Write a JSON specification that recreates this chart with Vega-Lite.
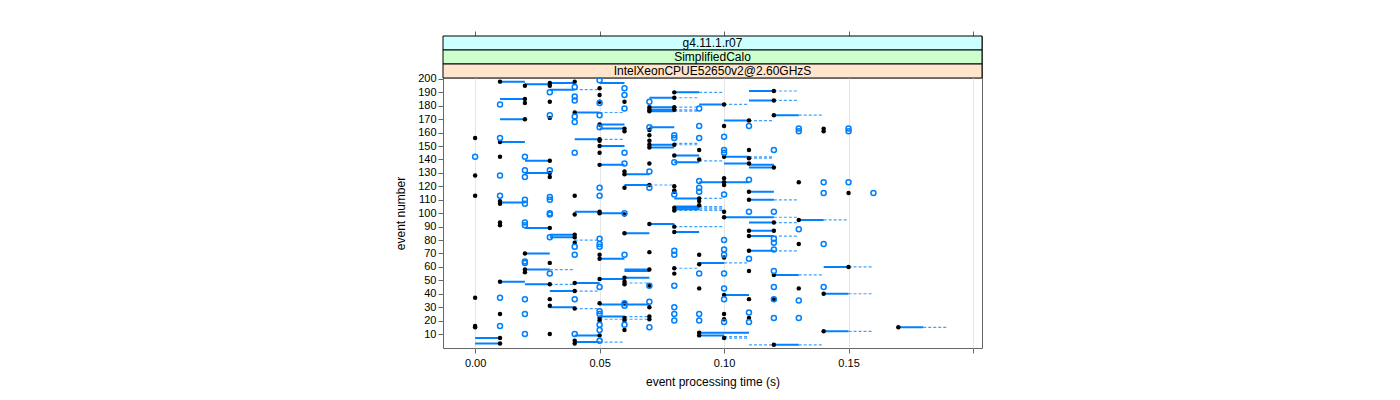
{
"$schema": "https://vega.github.io/schema/vega-lite/v6.json",
"padding": {"left": 394, "top": 30, "right": 10, "bottom": 5},
"background": "white",
"bounds": "flush",
"config": {"font": "Liberation Sans", "view": {"stroke": "#666666", "strokeWidth": 1},
  "axis": {"labelFont": "Liberation Sans", "titleFont": "Liberation Sans", "labelFontSize": 11, "titleFontSize": 12, "titleFontWeight": "normal", "labelColor": "black", "titleColor": "black", "tickColor": "#666666", "domain": false},
  "axisY": {"labelOverlap": false}},
"spacing": 0,
"datasets": {
"pts": [
{"e":198,"t":0.01,"k":"b"},{"e":197,"t":0.03,"k":"b"},{"e":195,"t":0.03,"k":"b"},{"e":198,"t":0.04,"k":"b"},{"e":195,"t":0.02,"k":"b"},{"e":193,"t":0.05,"k":"b"},{"e":188,"t":0.05,"k":"b"},{"e":183,"t":0.05,"k":"b"},{"e":185,"t":0.02,"k":"b"},{"e":182,"t":0.02,"k":"b"},{"e":183,"t":0.03,"k":"b"},{"e":183,"t":0.06,"k":"b"},{"e":175,"t":0.04,"k":"b"},{"e":171,"t":0.03,"k":"b"},{"e":170,"t":0.02,"k":"b"},{"e":166,"t":0.05,"k":"b"},{"e":163,"t":0.06,"k":"b"},{"e":161,"t":0.06,"k":"b"},{"e":156,"t":0.00,"k":"b"},{"e":153,"t":0.01,"k":"b"},{"e":155,"t":0.05,"k":"b"},{"e":154,"t":0.05,"k":"b"},{"e":150,"t":0.05,"k":"b"},{"e":145,"t":0.05,"k":"b"},{"e":142,"t":0.01,"k":"b"},{"e":139,"t":0.03,"k":"b"},{"e":136,"t":0.05,"k":"b"},{"e":130,"t":0.03,"k":"b"},{"e":127,"t":0.03,"k":"b"},{"e":131,"t":0.06,"k":"b"},{"e":129,"t":0.06,"k":"b"},{"e":128,"t":0.00,"k":"b"},{"e":119,"t":0.06,"k":"b"},{"e":113,"t":0.00,"k":"b"},{"e":109,"t":0.01,"k":"b"},{"e":107,"t":0.01,"k":"b"},{"e":113,"t":0.04,"k":"b"},{"e":101,"t":0.05,"k":"b"},
{"e":190,"t":0.08,"k":"b"},{"e":186,"t":0.08,"k":"b"},{"e":179,"t":0.07,"k":"b"},{"e":177,"t":0.07,"k":"b"},{"e":176,"t":0.07,"k":"b"},{"e":179,"t":0.08,"k":"b"},{"e":177,"t":0.08,"k":"b"},{"e":181,"t":0.10,"k":"b"},{"e":191,"t":0.12,"k":"b"},{"e":184,"t":0.12,"k":"b"},{"e":173,"t":0.12,"k":"b"},{"e":169,"t":0.11,"k":"b"},{"e":165,"t":0.10,"k":"b"},{"e":162,"t":0.07,"k":"b"},{"e":158,"t":0.07,"k":"b"},{"e":154,"t":0.07,"k":"b"},{"e":151,"t":0.07,"k":"b"},{"e":149,"t":0.07,"k":"b"},{"e":151,"t":0.08,"k":"b"},{"e":147,"t":0.09,"k":"b"},{"e":147,"t":0.11,"k":"b"},{"e":143,"t":0.08,"k":"b"},{"e":140,"t":0.09,"k":"b"},{"e":142,"t":0.10,"k":"b"},{"e":141,"t":0.11,"k":"b"},{"e":137,"t":0.11,"k":"b"},{"e":134,"t":0.12,"k":"b"},{"e":137,"t":0.07,"k":"b"},{"e":121,"t":0.07,"k":"b"},{"e":126,"t":0.10,"k":"b"},{"e":123,"t":0.10,"k":"b"},{"e":121,"t":0.10,"k":"b"},{"e":123,"t":0.13,"k":"b"},{"e":120,"t":0.08,"k":"b"},{"e":117,"t":0.08,"k":"b"},{"e":116,"t":0.08,"k":"b"},{"e":111,"t":0.09,"k":"b"},{"e":109,"t":0.09,"k":"b"},{"e":106,"t":0.09,"k":"b"},{"e":104,"t":0.08,"k":"b"},{"e":116,"t":0.11,"k":"b"},{"e":110,"t":0.11,"k":"b"},
{"e":163,"t":0.14,"k":"b"},{"e":161,"t":0.14,"k":"b"},{"e":115,"t":0.15,"k":"b"},
{"e":99,"t":0.04,"k":"b"},{"e":100,"t":0.05,"k":"b"},{"e":99,"t":0.06,"k":"b"},{"e":93,"t":0.01,"k":"b"},{"e":91,"t":0.01,"k":"b"},{"e":89,"t":0.03,"k":"b"},{"e":85,"t":0.06,"k":"b"},{"e":84,"t":0.04,"k":"b"},{"e":82,"t":0.04,"k":"b"},{"e":78,"t":0.04,"k":"b"},{"e":69,"t":0.05,"k":"b"},{"e":66,"t":0.05,"k":"b"},{"e":70,"t":0.02,"k":"b"},{"e":63,"t":0.03,"k":"b"},{"e":58,"t":0.02,"k":"b"},{"e":56,"t":0.02,"k":"b"},{"e":49,"t":0.01,"k":"b"},{"e":47,"t":0.03,"k":"b"},{"e":48,"t":0.04,"k":"b"},{"e":51,"t":0.05,"k":"b"},{"e":52,"t":0.06,"k":"b"},{"e":49,"t":0.06,"k":"b"},{"e":47,"t":0.06,"k":"b"},{"e":42,"t":0.04,"k":"b"},{"e":37,"t":0.00,"k":"b"},{"e":36,"t":0.03,"k":"b"},{"e":31,"t":0.03,"k":"b"},{"e":29,"t":0.04,"k":"b"},{"e":33,"t":0.05,"k":"b"},{"e":33,"t":0.06,"k":"b"},{"e":25,"t":0.01,"k":"b"},{"e":22,"t":0.05,"k":"b"},{"e":20,"t":0.05,"k":"b"},{"e":22,"t":0.06,"k":"b"},{"e":20,"t":0.06,"k":"b"},{"e":13,"t":0.06,"k":"b"},{"e":16,"t":0.00,"k":"b"},{"e":15,"t":0.00,"k":"b"},{"e":10,"t":0.03,"k":"b"},{"e":7,"t":0.01,"k":"b"},{"e":3,"t":0.01,"k":"b"},{"e":9,"t":0.05,"k":"b"},{"e":5,"t":0.04,"k":"b"},{"e":3,"t":0.04,"k":"b"},
{"e":102,"t":0.08,"k":"b"},{"e":101,"t":0.10,"k":"b"},{"e":97,"t":0.10,"k":"b"},{"e":95,"t":0.13,"k":"b"},{"e":92,"t":0.07,"k":"b"},{"e":90,"t":0.08,"k":"b"},{"e":86,"t":0.08,"k":"b"},{"e":93,"t":0.12,"k":"b"},{"e":87,"t":0.11,"k":"b"},{"e":87,"t":0.12,"k":"b"},{"e":83,"t":0.11,"k":"b"},{"e":77,"t":0.13,"k":"b"},{"e":72,"t":0.11,"k":"b"},{"e":67,"t":0.10,"k":"b"},{"e":71,"t":0.07,"k":"b"},{"e":69,"t":0.09,"k":"b"},{"e":62,"t":0.09,"k":"b"},{"e":58,"t":0.07,"k":"b"},{"e":59,"t":0.08,"k":"b"},{"e":55,"t":0.08,"k":"b"},{"e":57,"t":0.11,"k":"b"},{"e":54,"t":0.12,"k":"b"},{"e":46,"t":0.07,"k":"b"},{"e":44,"t":0.09,"k":"b"},{"e":39,"t":0.10,"k":"b"},{"e":36,"t":0.11,"k":"b"},{"e":36,"t":0.12,"k":"b"},{"e":44,"t":0.13,"k":"b"},{"e":30,"t":0.07,"k":"b"},{"e":23,"t":0.07,"k":"b"},{"e":21,"t":0.07,"k":"b"},{"e":25,"t":0.10,"k":"b"},{"e":21,"t":0.10,"k":"b"},{"e":22,"t":0.11,"k":"b"},{"e":11,"t":0.09,"k":"b"},{"e":9,"t":0.09,"k":"b"},{"e":7,"t":0.10,"k":"b"},{"e":2,"t":0.12,"k":"b"},
{"e":60,"t":0.15,"k":"b"},{"e":40,"t":0.14,"k":"b"},{"e":12,"t":0.14,"k":"b"},{"e":15,"t":0.17,"k":"b"},
{"e":199,"t":0.05,"k":"o"},{"e":194,"t":0.04,"k":"o"},{"e":193,"t":0.06,"k":"o"},{"e":190,"t":0.03,"k":"o"},{"e":187,"t":0.04,"k":"o"},{"e":184,"t":0.04,"k":"o"},{"e":182,"t":0.05,"k":"o"},{"e":188,"t":0.06,"k":"o"},{"e":178,"t":0.06,"k":"o"},{"e":181,"t":0.01,"k":"o"},{"e":173,"t":0.05,"k":"o"},{"e":173,"t":0.03,"k":"o"},{"e":172,"t":0.04,"k":"o"},{"e":168,"t":0.04,"k":"o"},{"e":164,"t":0.05,"k":"o"},{"e":156,"t":0.01,"k":"o"},{"e":145,"t":0.04,"k":"o"},{"e":145,"t":0.06,"k":"o"},{"e":142,"t":0.00,"k":"o"},{"e":142,"t":0.02,"k":"o"},{"e":137,"t":0.06,"k":"o"},{"e":132,"t":0.02,"k":"o"},{"e":132,"t":0.03,"k":"o"},{"e":127,"t":0.02,"k":"o"},{"e":128,"t":0.01,"k":"o"},{"e":119,"t":0.05,"k":"o"},{"e":113,"t":0.01,"k":"o"},{"e":110,"t":0.02,"k":"o"},{"e":107,"t":0.02,"k":"o"},{"e":112,"t":0.03,"k":"o"},{"e":110,"t":0.03,"k":"o"},{"e":113,"t":0.05,"k":"o"},{"e":100,"t":0.03,"k":"o"},{"e":100,"t":0.06,"k":"o"},{"e":183,"t":0.07,"k":"o"},
{"e":178,"t":0.09,"k":"o"},{"e":165,"t":0.11,"k":"o"},{"e":165,"t":0.09,"k":"o"},{"e":164,"t":0.07,"k":"o"},{"e":158,"t":0.08,"k":"o"},{"e":156,"t":0.08,"k":"o"},{"e":156,"t":0.09,"k":"o"},{"e":157,"t":0.10,"k":"o"},{"e":163,"t":0.13,"k":"o"},{"e":161,"t":0.13,"k":"o"},{"e":147,"t":0.12,"k":"o"},{"e":147,"t":0.10,"k":"o"},{"e":145,"t":0.10,"k":"o"},{"e":138,"t":0.08,"k":"o"},{"e":131,"t":0.07,"k":"o"},{"e":119,"t":0.07,"k":"o"},{"e":124,"t":0.09,"k":"o"},{"e":125,"t":0.11,"k":"o"},{"e":114,"t":0.08,"k":"o"},{"e":119,"t":0.09,"k":"o"},{"e":116,"t":0.09,"k":"o"},{"e":114,"t":0.10,"k":"o"},{"e":101,"t":0.11,"k":"o"},{"e":101,"t":0.12,"k":"o"},
{"e":163,"t":0.15,"k":"o"},{"e":161,"t":0.15,"k":"o"},{"e":123,"t":0.14,"k":"o"},{"e":123,"t":0.15,"k":"o"},{"e":115,"t":0.14,"k":"o"},{"e":115,"t":0.16,"k":"o"},
{"e":99,"t":0.03,"k":"o"},{"e":93,"t":0.02,"k":"o"},{"e":91,"t":0.02,"k":"o"},{"e":82,"t":0.03,"k":"o"},{"e":75,"t":0.04,"k":"o"},{"e":81,"t":0.05,"k":"o"},{"e":77,"t":0.05,"k":"o"},{"e":75,"t":0.05,"k":"o"},{"e":69,"t":0.04,"k":"o"},{"e":69,"t":0.06,"k":"o"},{"e":64,"t":0.02,"k":"o"},{"e":63,"t":0.02,"k":"o"},{"e":55,"t":0.03,"k":"o"},{"e":45,"t":0.05,"k":"o"},{"e":37,"t":0.01,"k":"o"},{"e":36,"t":0.02,"k":"o"},{"e":36,"t":0.04,"k":"o"},{"e":27,"t":0.05,"k":"o"},{"e":25,"t":0.05,"k":"o"},{"e":33,"t":0.06,"k":"o"},{"e":31,"t":0.06,"k":"o"},{"e":25,"t":0.02,"k":"o"},{"e":17,"t":0.06,"k":"o"},{"e":17,"t":0.05,"k":"o"},{"e":13,"t":0.05,"k":"o"},{"e":16,"t":0.01,"k":"o"},{"e":10,"t":0.02,"k":"o"},{"e":10,"t":0.04,"k":"o"},{"e":5,"t":0.05,"k":"o"},
{"e":88,"t":0.13,"k":"o"},{"e":81,"t":0.12,"k":"o"},{"e":78,"t":0.12,"k":"o"},{"e":73,"t":0.12,"k":"o"},{"e":80,"t":0.10,"k":"o"},{"e":73,"t":0.10,"k":"o"},{"e":69,"t":0.10,"k":"o"},{"e":72,"t":0.08,"k":"o"},{"e":69,"t":0.08,"k":"o"},{"e":66,"t":0.11,"k":"o"},{"e":55,"t":0.09,"k":"o"},{"e":55,"t":0.10,"k":"o"},{"e":57,"t":0.12,"k":"o"},{"e":46,"t":0.07,"k":"o"},{"e":46,"t":0.08,"k":"o"},{"e":44,"t":0.10,"k":"o"},{"e":36,"t":0.10,"k":"o"},{"e":45,"t":0.12,"k":"o"},{"e":36,"t":0.12,"k":"o"},{"e":35,"t":0.13,"k":"o"},{"e":34,"t":0.07,"k":"o"},{"e":15,"t":0.07,"k":"o"},{"e":30,"t":0.08,"k":"o"},{"e":25,"t":0.08,"k":"o"},{"e":20,"t":0.08,"k":"o"},{"e":25,"t":0.09,"k":"o"},{"e":20,"t":0.09,"k":"o"},{"e":19,"t":0.10,"k":"o"},{"e":26,"t":0.11,"k":"o"},{"e":19,"t":0.11,"k":"o"},{"e":22,"t":0.12,"k":"o"},{"e":22,"t":0.13,"k":"o"},
{"e":77,"t":0.14,"k":"o"},{"e":45,"t":0.14,"k":"o"}
],
"segs": [
{"e":198,"t":0.01,"t2":0.02,"s":"solid"},{"e":196,"t":0.02,"t2":0.03,"s":"solid"},{"e":197,"t":0.03,"t2":0.04,"s":"solid"},{"e":192,"t":0.03,"t2":0.04,"s":"solid"},{"e":197,"t":0.05,"t2":0.06,"s":"solid"},{"e":185,"t":0.01,"t2":0.02,"s":"solid"},{"e":175,"t":0.04,"t2":0.05,"s":"solid"},{"e":170,"t":0.01,"t2":0.02,"s":"solid"},{"e":166,"t":0.05,"t2":0.06,"s":"solid"},{"e":163,"t":0.05,"t2":0.06,"s":"solid"},{"e":153,"t":0.01,"t2":0.02,"s":"solid"},{"e":155,"t":0.04,"t2":0.05,"s":"solid"},{"e":150,"t":0.05,"t2":0.06,"s":"solid"},{"e":139,"t":0.02,"t2":0.03,"s":"solid"},{"e":136,"t":0.05,"t2":0.06,"s":"solid"},{"e":130,"t":0.02,"t2":0.03,"s":"solid"},{"e":129,"t":0.06,"t2":0.07,"s":"solid"},{"e":121,"t":0.06,"t2":0.07,"s":"solid"},{"e":108,"t":0.01,"t2":0.02,"s":"solid"},{"e":101,"t":0.04,"t2":0.05,"s":"solid"},{"e":100,"t":0.05,"t2":0.06,"s":"solid"},
{"e":190,"t":0.08,"t2":0.09,"s":"solid"},{"e":186,"t":0.07,"t2":0.08,"s":"solid"},{"e":179,"t":0.07,"t2":0.08,"s":"solid"},{"e":177,"t":0.07,"t2":0.08,"s":"solid"},{"e":176,"t":0.07,"t2":0.08,"s":"solid"},{"e":181,"t":0.09,"t2":0.10,"s":"solid"},{"e":191,"t":0.11,"t2":0.12,"s":"solid"},{"e":184,"t":0.11,"t2":0.12,"s":"solid"},{"e":173,"t":0.12,"t2":0.13,"s":"solid"},{"e":169,"t":0.10,"t2":0.11,"s":"solid"},{"e":164,"t":0.07,"t2":0.08,"s":"solid"},{"e":151,"t":0.07,"t2":0.08,"s":"solid"},{"e":149,"t":0.07,"t2":0.08,"s":"solid"},{"e":143,"t":0.08,"t2":0.09,"s":"solid"},{"e":138,"t":0.08,"t2":0.09,"s":"solid"},{"e":142,"t":0.10,"t2":0.11,"s":"solid"},{"e":136,"t":0.11,"t2":0.12,"s":"solid"},{"e":134,"t":0.11,"t2":0.12,"s":"solid"},{"e":137,"t":0.10,"t2":0.11,"s":"solid"},{"e":123,"t":0.09,"t2":0.10,"s":"solid"},{"e":123,"t":0.10,"t2":0.11,"s":"solid"},{"e":111,"t":0.08,"t2":0.09,"s":"solid"},{"e":105,"t":0.08,"t2":0.09,"s":"solid"},{"e":104,"t":0.08,"t2":0.09,"s":"solid"},{"e":103,"t":0.08,"t2":0.09,"s":"solid"},{"e":116,"t":0.11,"t2":0.12,"s":"solid"},{"e":110,"t":0.11,"t2":0.12,"s":"solid"},
{"e":89,"t":0.02,"t2":0.03,"s":"solid"},{"e":85,"t":0.06,"t2":0.07,"s":"solid"},{"e":84,"t":0.03,"t2":0.04,"s":"solid"},{"e":82,"t":0.03,"t2":0.04,"s":"solid"},{"e":66,"t":0.05,"t2":0.06,"s":"solid"},{"e":70,"t":0.02,"t2":0.03,"s":"solid"},{"e":58,"t":0.02,"t2":0.03,"s":"solid"},{"e":57,"t":0.06,"t2":0.07,"s":"solid"},{"e":49,"t":0.01,"t2":0.02,"s":"solid"},{"e":47,"t":0.02,"t2":0.03,"s":"solid"},{"e":48,"t":0.04,"t2":0.05,"s":"solid"},{"e":51,"t":0.05,"t2":0.06,"s":"solid"},{"e":52,"t":0.06,"t2":0.07,"s":"solid"},{"e":42,"t":0.03,"t2":0.04,"s":"solid"},{"e":30,"t":0.03,"t2":0.04,"s":"solid"},{"e":32,"t":0.05,"t2":0.06,"s":"solid"},{"e":32,"t":0.06,"t2":0.07,"s":"solid"},{"e":23,"t":0.05,"t2":0.06,"s":"solid"},{"e":7,"t":0.00,"t2":0.01,"s":"solid"},{"e":3,"t":0.00,"t2":0.01,"s":"solid"},{"e":9,"t":0.04,"t2":0.05,"s":"solid"},{"e":4,"t":0.04,"t2":0.05,"s":"solid"},
{"e":97,"t":0.10,"t2":0.12,"s":"solid"},{"e":95,"t":0.13,"t2":0.14,"s":"solid"},{"e":92,"t":0.07,"t2":0.08,"s":"solid"},{"e":86,"t":0.08,"t2":0.09,"s":"solid"},{"e":93,"t":0.11,"t2":0.12,"s":"solid"},{"e":87,"t":0.11,"t2":0.12,"s":"solid"},{"e":83,"t":0.11,"t2":0.12,"s":"solid"},{"e":72,"t":0.11,"t2":0.12,"s":"solid"},{"e":63,"t":0.09,"t2":0.10,"s":"solid"},{"e":58,"t":0.06,"t2":0.07,"s":"solid"},{"e":54,"t":0.12,"t2":0.13,"s":"solid"},{"e":39,"t":0.10,"t2":0.11,"s":"solid"},{"e":11,"t":0.09,"t2":0.11,"s":"solid"},{"e":9,"t":0.09,"t2":0.10,"s":"solid"},{"e":2,"t":0.12,"t2":0.13,"s":"solid"},
{"e":60,"t":0.14,"t2":0.15,"s":"solid"},{"e":40,"t":0.14,"t2":0.15,"s":"solid"},{"e":12,"t":0.14,"t2":0.15,"s":"solid"},{"e":15,"t":0.17,"t2":0.18,"s":"solid"},
{"e":192,"t":0.04,"t2":0.05,"s":"dash"},{"e":175,"t":0.05,"t2":0.06,"s":"dash"},{"e":155,"t":0.05,"t2":0.06,"s":"dash"},
{"e":190,"t":0.09,"t2":0.10,"s":"dash"},{"e":186,"t":0.08,"t2":0.09,"s":"dash"},{"e":179,"t":0.08,"t2":0.09,"s":"dash"},{"e":177,"t":0.08,"t2":0.09,"s":"dash"},{"e":176,"t":0.08,"t2":0.09,"s":"dash"},{"e":181,"t":0.10,"t2":0.11,"s":"dash"},{"e":191,"t":0.12,"t2":0.13,"s":"dash"},{"e":184,"t":0.12,"t2":0.13,"s":"dash"},{"e":173,"t":0.13,"t2":0.14,"s":"dash"},{"e":169,"t":0.11,"t2":0.12,"s":"dash"},{"e":152,"t":0.08,"t2":0.09,"s":"dash"},{"e":151,"t":0.08,"t2":0.09,"s":"dash"},{"e":139,"t":0.09,"t2":0.10,"s":"dash"},{"e":142,"t":0.11,"t2":0.12,"s":"dash"},{"e":141,"t":0.11,"t2":0.12,"s":"dash"},{"e":121,"t":0.07,"t2":0.08,"s":"dash"},{"e":111,"t":0.09,"t2":0.10,"s":"dash"},{"e":105,"t":0.09,"t2":0.10,"s":"dash"},{"e":104,"t":0.09,"t2":0.10,"s":"dash"},{"e":103,"t":0.09,"t2":0.10,"s":"dash"},{"e":110,"t":0.12,"t2":0.13,"s":"dash"},
{"e":80,"t":0.04,"t2":0.05,"s":"dash"},{"e":58,"t":0.03,"t2":0.04,"s":"dash"},{"e":47,"t":0.03,"t2":0.04,"s":"dash"},{"e":42,"t":0.04,"t2":0.05,"s":"dash"},{"e":29,"t":0.04,"t2":0.05,"s":"dash"},{"e":21,"t":0.05,"t2":0.06,"s":"dash"},{"e":23,"t":0.06,"t2":0.07,"s":"dash"},{"e":21,"t":0.06,"t2":0.07,"s":"dash"},{"e":32,"t":0.06,"t2":0.07,"s":"dash"},{"e":48,"t":0.06,"t2":0.07,"s":"dash"},{"e":4,"t":0.05,"t2":0.06,"s":"dash"},
{"e":102,"t":0.08,"t2":0.10,"s":"dash"},{"e":97,"t":0.12,"t2":0.13,"s":"dash"},{"e":95,"t":0.14,"t2":0.15,"s":"dash"},{"e":90,"t":0.08,"t2":0.10,"s":"dash"},{"e":93,"t":0.12,"t2":0.13,"s":"dash"},{"e":83,"t":0.12,"t2":0.13,"s":"dash"},{"e":72,"t":0.12,"t2":0.13,"s":"dash"},{"e":63,"t":0.10,"t2":0.11,"s":"dash"},{"e":59,"t":0.08,"t2":0.09,"s":"dash"},{"e":54,"t":0.13,"t2":0.14,"s":"dash"},{"e":8,"t":0.10,"t2":0.11,"s":"dash"},{"e":7,"t":0.10,"t2":0.11,"s":"dash"},{"e":2,"t":0.11,"t2":0.12,"s":"dash"},{"e":2,"t":0.13,"t2":0.14,"s":"dash"},
{"e":60,"t":0.15,"t2":0.16,"s":"dash"},{"e":40,"t":0.15,"t2":0.16,"s":"dash"},{"e":12,"t":0.15,"t2":0.16,"s":"dash"},{"e":15,"t":0.18,"t2":0.19,"s":"dash"}
]
},
"vconcat": [
{
 "width": 539, "height": 42,
 "data": {"values": [{"lab": "g4.11.1.r07"}, {"lab": "SimplifiedCalo"}, {"lab": "IntelXeonCPUE52650v2@2.60GHzS"}]},
 "encoding": {"y": {"field": "lab", "type": "nominal", "sort": null, "axis": null, "scale": {"paddingInner": 0, "paddingOuter": 0}}},
 "layer": [
  {"mark": {"type": "rect", "stroke": "black", "strokeWidth": 1},
   "encoding": {"x": {"value": 0}, "x2": {"value": "width"},
     "fill": {"field": "lab", "type": "nominal", "legend": null, "scale": {"domain": ["g4.11.1.r07", "SimplifiedCalo", "IntelXeonCPUE52650v2@2.60GHzS"], "range": ["#ccffff", "#ccffcc", "#ffe5cc"]}}}},
  {"mark": {"type": "text", "fontSize": 12, "font": "Liberation Sans", "color": "black"},
   "encoding": {"text": {"field": "lab"}}},
  {"mark": {"type": "rule", "opacity": 0},
   "encoding": {"x": {"datum": 0, "type": "quantitative", "scale": {"domain": [-0.0129, 0.2036], "nice": false, "zero": false},
     "axis": {"orient": "top", "values": [0, 0.05, 0.1, 0.15, 0.2], "labels": false, "ticks": true, "tickSize": 5, "domain": false, "grid": false, "title": null}}}}
 ]
},
{
 "width": 539, "height": 270,
 "encoding": {
  "x": {"field": "t", "type": "quantitative", "scale": {"domain": [-0.0129, 0.2036], "nice": false, "zero": false},
    "axis": {"orient": "bottom", "values": [0, 0.05, 0.1, 0.15, 0.2], "labelExpr": "datum.value > 0.19 ? '' : format(datum.value, '.2f')", "tickSize": 5, "labelPadding": 4, "grid": true, "gridColor": "#e6e6e6", "title": "event processing time (s)", "titlePadding": 8}},
  "y": {"field": "e", "type": "quantitative", "scale": {"domain": [-0.4, 200.7], "nice": false, "zero": false},
    "axis": {"values": [10,20,30,40,50,60,70,80,90,100,110,120,130,140,150,160,170,180,190,200], "labelOverlap": false, "labelBound": false, "labelFlush": false, "tickSize": 5, "labelPadding": 2, "grid": false, "title": "event number", "titlePadding": 10}}
 },
 "layer": [
  {"data": {"name": "segs"}, "mark": {"type": "rule", "color": "#0080ff"},
   "encoding": {
    "x2": {"field": "t2"},
    "strokeDash": {"field": "s", "type": "nominal", "scale": {"domain": ["solid", "dash"], "range": [[1, 0], [3, 2]]}, "legend": null},
    "strokeWidth": {"field": "s", "type": "nominal", "scale": {"domain": ["solid", "dash"], "range": [2, 1.2]}, "legend": null},
    "opacity": {"field": "s", "type": "nominal", "scale": {"domain": ["solid", "dash"], "range": [1, 0.75]}, "legend": null}
   }},
  {"data": {"name": "pts"}, "transform": [{"filter": "datum.k == 'b'"}],
   "mark": {"type": "circle", "color": "black", "size": 20, "opacity": 1}},
  {"data": {"name": "pts"}, "transform": [{"filter": "datum.k == 'o'"}],
   "mark": {"type": "point", "shape": "circle", "filled": false, "color": "#0080ff", "size": 25, "strokeWidth": 1.5, "opacity": 1}}
 ]
}
]
}
